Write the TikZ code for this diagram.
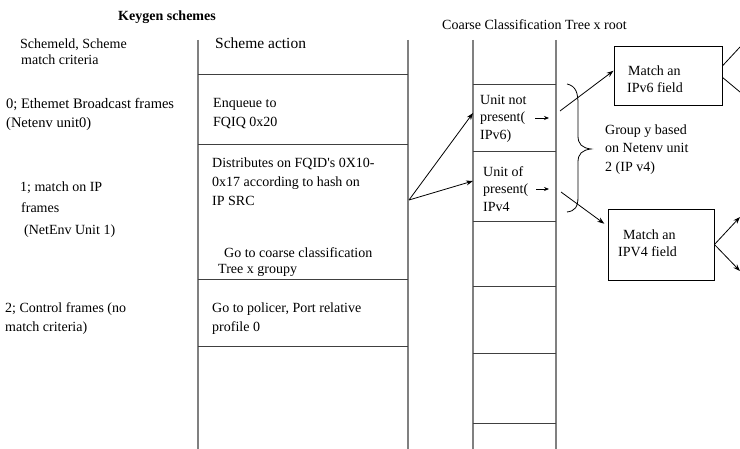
\documentclass[tikz,border=0pt]{standalone}
\usepackage{fontspec}
\setmainfont{Liberation Serif}[Ligatures=TeXOff]
\usetikzlibrary{arrows.meta}
\begin{document}
\begin{tikzpicture}[x=1pt,y=-1pt,
  txt/.style={anchor=base west, inner sep=0pt, font=\fontsize{14}{17}\selectfont},
  vline/.style={draw=black!50, line width=1.3pt},
  hline/.style={draw=black!75, line width=0.9pt},
  box/.style={draw=black, line width=0.9pt, inner sep=0pt},
  arr/.style={draw=black, line width=0.8pt, -{Stealth[length=7pt,width=5pt]}},
  smallarr/.style={draw=black, line width=0.8pt, -{Stealth[length=5pt,width=4pt]}},
  ln/.style={draw=black, line width=0.8pt}]
\useasboundingbox (0,0) rectangle (740,449);

% ---------- left table (Keygen schemes) ----------
\draw[vline] (198,40) -- (198,449);
\draw[vline] (408,40) -- (408,449);
\foreach \yy in {74,144,279,346} \draw[hline] (198,\yy) -- (408,\yy);

% ---------- coarse classification tree column ----------
\draw[vline] (473,40) -- (473,449);
\draw[vline] (556,40) -- (556,449);
\foreach \yy in {84,151,221,286,353,423} \draw[hline] (473,\yy) -- (556,\yy);

% ---------- titles ----------
\node[txt, font=\bfseries\fontsize{14}{17}\selectfont] (title) at (118,21) {Keygen schemes};
\node[txt] (ctitle) at (442,30) {Coarse Classification Tree x root};

% ---------- left column texts ----------
\node[txt] (l1a) at (20,49) {Schemeld, Scheme};
\node[txt] (l1b) at (21,65) {match criteria};
\node[txt, font=\fontsize{14.5}{17}\selectfont] (l2a) at (6,109) {0; Ethemet Broadcast frames};
\node[txt, font=\fontsize{14.5}{17}\selectfont] (l2b) at (6,128) {(Netenv unit0)};
\node[txt] (l3a) at (20,192) {1; match on IP};
\node[txt] (l3b) at (21,213) {frames};
\node[txt] (l3c) at (24,235) {(NetEnv Unit 1)};
\node[txt] (l4a) at (5,313) {2; Control frames (no};
\node[txt] (l4b) at (5,332) {match criteria)};

% ---------- action column texts ----------
\node[txt, font=\fontsize{15.5}{18}\selectfont] (a1) at (215,49) {Scheme action};
\node[txt] (a2a) at (213,108) {Enqueue to};
\node[txt] (a2b) at (213,127) {FQIQ 0x20};
\node[txt] (a3a) at (212,168) {Distributes on FQID's 0X10-};
\node[txt] (a3b) at (212,187) {0x17 according to hash on};
\node[txt] (a3c) at (212,206) {IP SRC};
\node[txt] (a3d) at (224,258) {Go to coarse classification};
\node[txt] (a3e) at (218,274) {Tree x groupy};
\node[txt] (a4a) at (212,313) {Go to policer, Port relative};
\node[txt] (a4b) at (212,332) {profile 0};

% ---------- tree cell texts ----------
\node[txt] (t1a) at (480,105) {Unit not};
\node[txt] (t1b) at (480,122) {present(};
\node[txt] (t1c) at (480,140) {IPv6)};
\node[txt] (t2a) at (483,177) {Unit of};
\node[txt] (t2b) at (483,194) {present(};
\node[txt] (t2c) at (483,212) {IPv4};

% small arrows inside cells
\coordinate (s1a) at (535,118); \coordinate (s1b) at (549,118);
\coordinate (s2a) at (536,189); \coordinate (s2b) at (549,189);
\draw[smallarr] (s1a) -- (s1b);
\draw[smallarr] (s2a) -- (s2b);

% ---------- group label and brace ----------
\node[txt] (g1) at (605,135) {Group y based};
\node[txt] (g2) at (605,153) {on Netenv unit};
\node[txt] (g3) at (605,172) {2 (IP v4)};
\coordinate (btop) at (567,84);
\coordinate (btip) at (591,149);
\coordinate (bbot) at (567,212);
\draw[ln] (btop) .. controls (576,86) and (578,93) .. (578,104) -- (578,136)
  .. controls (578,144) and (582,148) .. (btip)
  .. controls (582,150) and (578,154) .. (578,162) -- (578,197)
  .. controls (578,207) and (575,211) .. (bbot);

% ---------- match boxes ----------
\node[box, minimum width=108pt, minimum height=59pt] (m6) at (668,75.5) {};
\node[txt] (m6a) at (628,76) {Match an};
\node[txt] (m6b) at (627,93) {IPv6 field};
\node[box, minimum width=106pt, minimum height=71pt] (m4) at (661,244.5) {};
\node[txt] (m4a) at (623,240) {Match an};
\node[txt] (m4b) at (618,257) {IPV4 field};

% ---------- connectors ----------
\coordinate (src) at (409,200);
\coordinate (c6in) at (473,113);
\coordinate (c4in) at (473,181);
\draw[arr] (src) -- (c6in);
\draw[arr] (src) -- (c4in);

\coordinate (c6out) at (560,111);
\coordinate (c4out) at (561,192);
\draw[arr] (c6out) -- (m6.175);
\draw[arr, shorten >=4pt] (c4out) -- (m4.161);

\coordinate (o6a) at (740,47);
\coordinate (o6b) at (740,92);
\draw[ln] (m6.10) -- (o6a);
\draw[ln] (m6.-2) -- (o6b);

\coordinate (o4a) at (740,217);
\coordinate (o4b) at (740,271);
\draw[arr] (m4.east) -- (o4a);
\draw[arr] (m4.east) -- (o4b);
\end{tikzpicture}
\end{document}
